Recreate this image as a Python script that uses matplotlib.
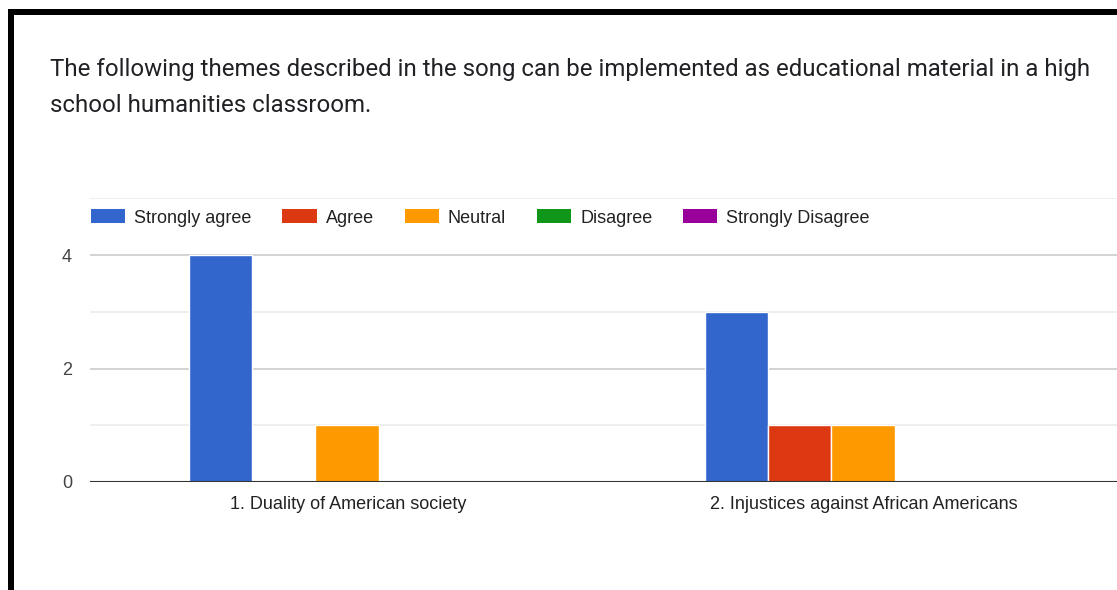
import matplotlib
matplotlib.use("Agg")
import matplotlib.pyplot as plt
import numpy as np
from matplotlib.patches import Patch, Rectangle

title_lines = ["The following themes described in the song can be implemented as educational material in a high",
               "school humanities classroom."]
categories = ["1. Duality of American society", "2. Injustices against African Americans"]
series = ["Strongly agree", "Agree", "Neutral", "Disagree", "Strongly Disagree"]
values = {
    "Strongly agree": [4, 3],
    "Agree": [0, 1],
    "Neutral": [1, 1],
    "Disagree": [0, 0],
    "Strongly Disagree": [0, 0],
}
colors = ["#3366cc", "#dc3912", "#ff9900", "#109618", "#990099"]
yticks = [0, 2, 4]

W, H = 1117, 590
fig = plt.figure(figsize=(W / 100, H / 100), dpi=100)
fig.patch.set_facecolor("white")

def fx(px):
    return px / W

def fy(py):
    return 1 - py / H

# black frame (top and left)
fig.patches.append(Rectangle((fx(8), fy(15)), 1, 6 / H, transform=fig.transFigure,
                             facecolor="black", edgecolor="none", zorder=10))
fig.patches.append(Rectangle((fx(8), 0), 6 / W, fy(9), transform=fig.transFigure,
                             facecolor="black", edgecolor="none", zorder=10))

# title
fig.text(fx(50), fy(76), title_lines[0], fontsize=17.3, family="Roboto", color="#202124", va="baseline")
fig.text(fx(50), fy(112), title_lines[1], fontsize=17.3, family="Roboto", color="#202124", va="baseline")

# axes: zero at y=482, 5 at y=198.5; x center 0 at 348, 1 at 864
x0px, x1px = 90, 90 + 1032
ybot, ytop = 482, 198.25
ax = fig.add_axes([fx(x0px), fy(ybot), (x1px - x0px) / W, (ybot - ytop) / H])
ax.set_xlim(-0.5, 1.5)
ax.set_ylim(0, 5)
for s in ax.spines.values():
    s.set_visible(False)

# gridlines
for v in [1, 3, 5]:
    ax.axhline(v, color="#ebebeb", lw=1.2, zorder=0)
for v in [2, 4]:
    ax.axhline(v, color="#cccccc", lw=1.2, zorder=0)
ax.axhline(0, color="#333333", lw=1.5, zorder=3)

x = np.arange(len(categories))
bw = 0.1225
n = len(series)
for i, (name, c) in enumerate(zip(series, colors)):
    off = (i - (n - 1) / 2) * bw
    ax.bar(x + off - 0.002, values[name], width=bw, color=c, edgecolor="white", linewidth=1.0, zorder=2)

ax.set_yticks(yticks)
ax.set_yticklabels([str(t) for t in yticks], fontsize=13, family="Liberation Sans", color="#444444")
ax.tick_params(axis="y", length=0, pad=13)
ax.set_xticks(x)
ax.set_xticklabels(categories, fontsize=13, family="Liberation Sans", color="#222222")
ax.tick_params(axis="x", length=0, pad=10)

handles = [Patch(facecolor=c, edgecolor="none") for c in colors]
leg = ax.legend(handles, series, ncol=5, loc="center left",
                bbox_to_anchor=(1 / (x1px - x0px), (ybot - 218) / (ybot - ytop)),
                frameon=False, prop={"family": "Liberation Sans", "size": 13},
                handlelength=1.9, handleheight=0.8, handletextpad=0.5, columnspacing=1.7,
                borderaxespad=0, borderpad=0)
for t in leg.get_texts():
    t.set_color("#222222")

fig.savefig("out.png", dpi=100, facecolor="white")
